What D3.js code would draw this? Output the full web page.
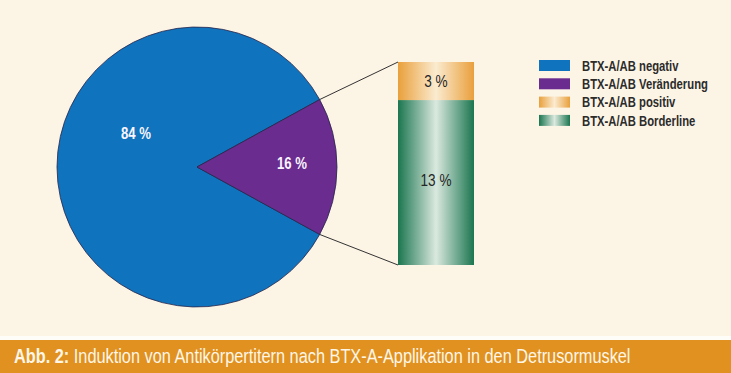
<!DOCTYPE html>
<html lang="de">
<head>
<meta charset="UTF-8">
<script src="https://cdnjs.cloudflare.com/ajax/libs/d3/7.8.5/d3.min.js"></script>
<style>
  body { margin: 0; background: #fcf4e5; }
  svg { display: block; }
  text { font-family: "Liberation Sans", Arial, sans-serif; }
</style>
</head>
<body>
<div id="chart"></div>
<script>
// data
var pieLabels = ["BTX-A/AB negativ", "BTX-A/AB Veränderung"];
var pieValues = [84, 16];
var barLabels = ["BTX-A/AB Borderline", "BTX-A/AB positiv"];
var barValues = [13, 3];
var legendLabels = ["BTX-A/AB negativ", "BTX-A/AB Veränderung", "BTX-A/AB positiv", "BTX-A/AB Borderline"];
var caption = "Induktion von Antikörpertitern nach BTX-A-Applikation in den Detrusormuskel";

var W = 731, H = 373;
var svg = d3.select("#chart").append("svg").attr("width", W).attr("height", H);

svg.append("rect").attr("width", W).attr("height", H).attr("fill", "#fcf4e5");

// no condensed font installed, so squeeze text horizontally around its x
function squeeze(sel, k) {
    sel.each(function() {
        var ax = +this.getAttribute("x");
        this.setAttribute("transform", "translate(" + ax + ",0) scale(" + k + ",1) translate(" + (-ax) + ",0)");
    });
}
function widthOf(sel) { return sel.node().getComputedTextLength(); }

var defs = svg.append("defs");
function hGrad(id, edge, mid) {
    var g = defs.append("linearGradient").attr("id", id)
        .attr("x1", "0%").attr("x2", "100%").attr("y1", "0%").attr("y2", "0%");
    g.append("stop").attr("offset", "0%").attr("stop-color", edge);
    g.append("stop").attr("offset", "50%").attr("stop-color", mid);
    g.append("stop").attr("offset", "100%").attr("stop-color", edge);
}
hGrad("gOrange", "#e9a03c", "#fbebd0");
hGrad("gGreen", "#1b7650", "#dbe9df");

var pieColors = ["#0f74bd", "#6a2c8f"];
var legendFills = ["#0f74bd", "#6a2c8f", "url(#gOrange)", "url(#gGreen)"];

// pie
var cx = 197, cy = 167, R = 140;
var total = d3.sum(pieValues);
var half = Math.PI * pieValues[1] / total;
var start = Math.PI / 2 + half;
var pie = d3.pie().sort(null).startAngle(start).endAngle(start + 2 * Math.PI);
var arcs = pie(pieValues);
var arc = d3.arc().innerRadius(0).outerRadius(R);

var gp = svg.append("g").attr("transform", "translate(" + cx + "," + cy + ")");
gp.selectAll("path").data(arcs).enter().append("path")
    .attr("d", arc)
    .attr("fill", function(d, i) { return pieColors[i]; })
    .attr("stroke", "#26234a")
    .attr("stroke-width", 0.8);

var labelPos = [[-61, -34], [95, -4]];
var pl = gp.selectAll("text.pl").data(arcs).enter().append("text")
    .attr("class", "pl")
    .attr("x", function(d, i) { return labelPos[i][0]; })
    .attr("y", function(d, i) { return labelPos[i][1]; })
    .attr("dy", "0.36em")
    .attr("text-anchor", "middle")
    .attr("fill", "#fbf4ff")
    .attr("font-weight", "bold")
    .attr("font-size", 16)
    .text(function(d) { return d.data + " %"; });
squeeze(pl, 30 / widthOf(pl));

// bar
var bx = 398, bw = 76;
var y = d3.scaleLinear().domain([0, d3.sum(barValues)]).range([265, 62]);
var stacked = [];
var acc = 0;
barValues.forEach(function(v, i) { stacked.push({v: v, y0: acc, y1: acc + v, i: i}); acc += v; });
var barFills = ["url(#gGreen)", "url(#gOrange)"];

// connector lines
var purple = arcs[1];
function pt(a) { return [cx + R * Math.sin(a), cy - R * Math.cos(a)]; }
var p1 = pt(purple.startAngle), p2 = pt(purple.endAngle);
svg.append("line").attr("x1", p1[0]).attr("y1", p1[1]).attr("x2", bx).attr("y2", y(acc))
    .attr("stroke", "#333").attr("stroke-width", 1);
svg.append("line").attr("x1", p2[0]).attr("y1", p2[1]).attr("x2", bx).attr("y2", y(0))
    .attr("stroke", "#333").attr("stroke-width", 1);

svg.selectAll("rect.bar").data(stacked).enter().append("rect")
    .attr("class", "bar")
    .attr("x", bx).attr("width", bw)
    .attr("y", function(d) { return y(d.y1); })
    .attr("height", function(d) { return y(d.y0) - y(d.y1); })
    .attr("fill", function(d) { return barFills[d.i]; });

var bl = svg.selectAll("text.bl").data(stacked).enter().append("text")
    .attr("class", "bl")
    .attr("x", bx + bw / 2)
    .attr("y", function(d) { return d.i === 0 ? y(d.y1) + 80 : (y(d.y0) + y(d.y1)) / 2; })
    .attr("dy", "0.36em")
    .attr("text-anchor", "middle")
    .attr("fill", "#262626")
    .attr("font-size", 16)
    .text(function(d) { return d.v + " %"; });
squeeze(bl, 31 / widthOf(bl));

// legend
var lg = svg.append("g").attr("transform", "translate(539,60)");
var row = lg.selectAll("g").data(legendLabels).enter().append("g")
    .attr("transform", function(d, i) { return "translate(0," + (i * 18.3) + ")"; });
row.append("rect").attr("width", 31).attr("height", 11)
    .attr("fill", function(d, i) { return legendFills[i]; });
var lt = row.append("text").attr("x", 43).attr("y", 5.5).attr("dy", "0.37em")
    .attr("font-size", 14.5).attr("font-weight", "bold").attr("fill", "#2b2b2b")
    .text(function(d) { return d; });
squeeze(lt, 126 / lt.filter(function(d, i) { return i === 1; }).node().getComputedTextLength());

// caption banner
svg.append("rect").attr("x", 0).attr("y", 336).attr("width", W).attr("height", 4).attr("fill", "#fffdf8");
svg.append("rect").attr("x", 0).attr("y", 340).attr("width", W).attr("height", 33).attr("fill", "#e0911f");
var cap = svg.append("text").attr("x", 14).attr("y", 363)
    .attr("font-size", 20.5).attr("fill", "#fff6e6");
cap.append("tspan").attr("font-weight", "bold").text("Abb. 2: ");
cap.append("tspan").text(caption);
squeeze(cap, 617 / cap.node().getBBox().width);
</script>
</body>
</html>
